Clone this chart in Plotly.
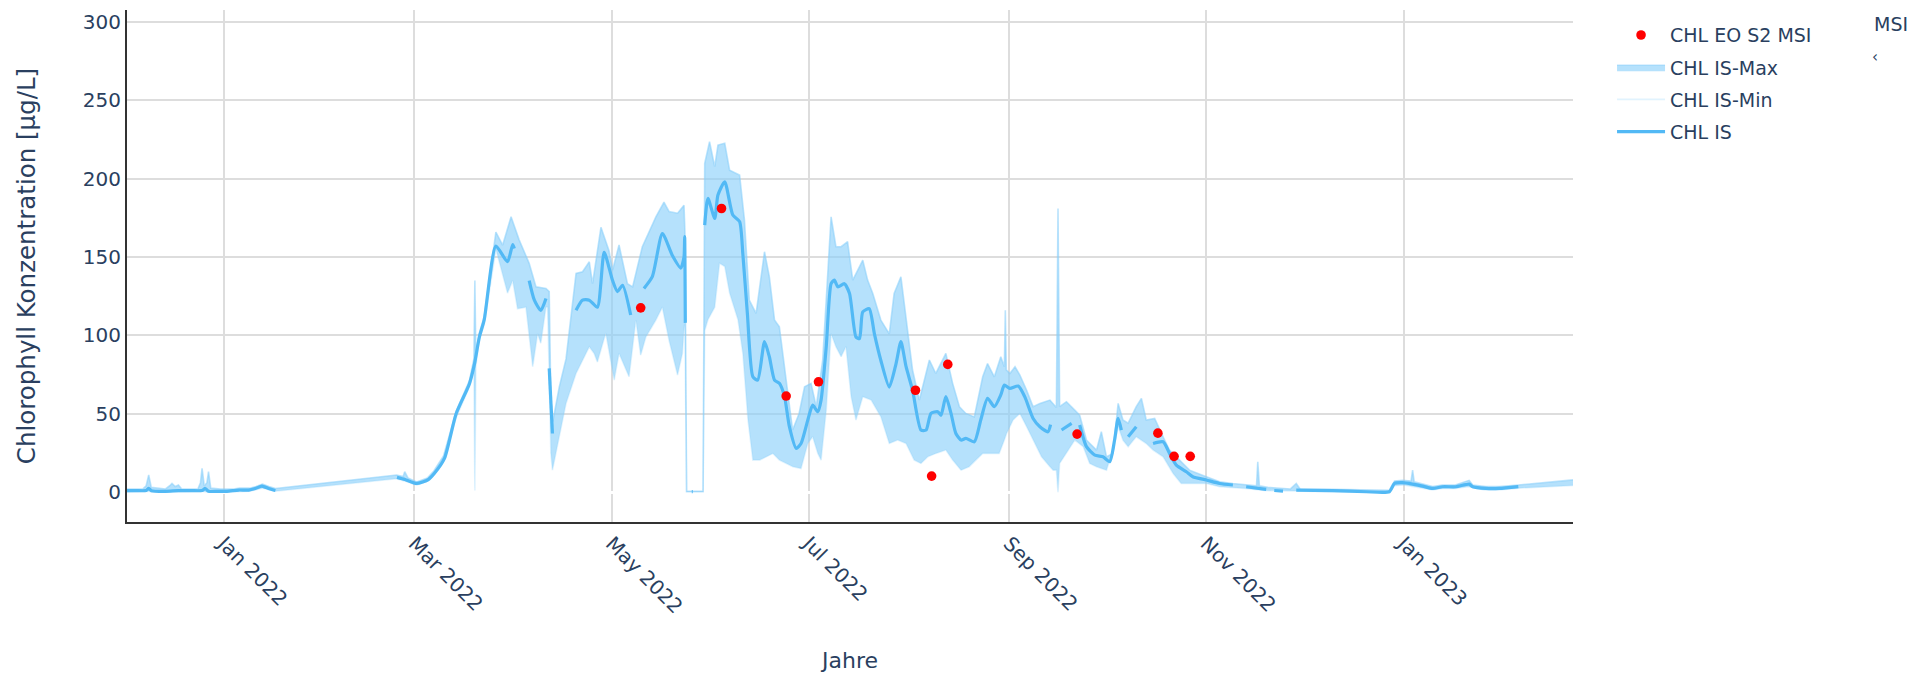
import pandas as pd
import plotly.graph_objects as go

# ---------------- data (day offsets relative to 2022-01-01) ----------------
BASE = "2022-01-01"

is_day = [-29.9, -27, -24, -23.2, -22.4, -18, -14, -10, -6.7, -5.7, -4.7, -2, 1, 4.6, 7.7, 9.8, 11.8, 13.9, 15.4, 16,
          17,
          53.6, 56.1, 59.7, 63.3, 65.2, 68.3, 71.9, 76, 77.5, 79.1, 80.6, 84.2, 87.8, 89.4, 89.9,
          92,
          94.5, 96.1, 98.1, 99.7,
          100.2,
          100.7, 101.7,
          103,
          109, 111, 113.1, 115.6, 117.7, 120.3, 121.8, 123.4, 125.9,
          127.5,
          130, 132.6, 135.7, 138.8, 141.4, 142.4, 142.6, 142.8,
          143.5,
          144.8, 145.1,
          146,
          148.8, 149.8, 151.9, 152.9, 155.0, 157.5, 159.6, 160.6, 162.0, 163.7, 165.2, 167.3, 168.8, 170.4, 171.9,
          173.5, 175.0, 177.1, 178.6, 180.7, 182.2, 183.8, 184.8, 186.4, 187.9, 188.9, 190.0, 192.0, 193.6, 195.6,
          196.7, 197.7, 199.7, 201.3, 203.3, 205.9, 208.0, 209.5, 211.1, 213.1, 215.7, 217.3, 218.8, 220.9, 221.9,
          223.4, 225.0, 226.5, 228.1, 229.6, 232.2, 234.2, 236.3, 238.4, 240.4, 241.5, 243.2, 245.8, 247.8, 250.4,
          252.5, 255, 255.8,
          257,
          259.2, 262.3,
          263.5,
          264.8, 266.9, 269.5, 272, 274.1, 275.6, 276.7, 277.7,
          278.5,
          279.8, 282.3,
          284,
          287.5, 290.6, 292.6, 294.7, 297.8, 299.8, 304, 308.1, 312.2,
          314,
          316.3, 322.5,
          324,
          325, 327.7,
          329,
          331.8, 343.1, 353.4, 360.6, 362.2, 364.7, 367.8, 370.9, 374, 377.1, 381.2, 385.3, 386.4, 390.5, 394.6, 400.5]
is_val = [0.9, 0.9, 1.0, 2.3, 0.9, 0.5, 0.9, 0.9, 1.0, 2.3, 0.5, 0.5, 0.5, 1.3, 1.3, 2.3, 3.8, 2.3, 1.3, 1.0,
          None,
          9.4, 8.0, 5.5, 8.0, 12, 21.5, 50, 69, 81, 99, 110, 157, 147, 158, 155.5,
          None,
          135, 122.5, 116, 123.6,
          None,
          79, 37.4,
          None,
          116, 122.5, 122.5, 118, 153, 135, 128, 132, 113,
          None,
          130, 137.5, 165, 151, 143, 150, 163, 108,
          None,
          0.3, 0.3,
          None,
          170.4, 187.4, 174.7, 189.6, 198, 176.8, 172.6, 152, 114, 73.6, 71.5, 96, 86.4, 71.5, 69.4,
          60.9, 41.7, 27.9, 31, 46, 55.5, 51.3, 58.7, 92.8, 133, 135.3, 131, 133, 126.8, 99,
          98, 115, 117, 101, 84, 67, 82, 96, 80, 65, 39.6, 39.6, 50.2, 51.3, 49,
          60.9, 50.2, 37.4, 33.2, 34.3, 32.1, 46, 59.8, 54.5, 62, 68.3, 66.2, 67.7, 60.9, 47,
          41.7, 38.5, 43,
          None,
          39.6, 43.8,
          None,
          42.8, 29, 23.6, 22.5, 19.4, 33.2, 47, 39.6,
          None,
          35.3, 41.7,
          None,
          31, 32.1, 24.7, 17.2, 13, 9.8, 7.7, 5.5, 4.5,
          None,
          3.4, 1.7,
          None,
          1.0, 0.6,
          None,
          1.3, 0.9, 0.2, 0.2, 5.5, 6, 5.1, 3.8, 2.3, 3.4, 3.4, 5.1, 3.4, 2.3, 2.3, 3.5]

max_day = [-29.9, -25, -24, -23.2, -22.4, -18, -16.5, -16, -15, -14, -13, -8, -7.2, -6.7, -6, -5.2, -4.7, -4, -1, 3,
           5, 8, 10, 12, 14, 16,
           53.5, 55.5, 56, 57, 59.7, 63, 65, 68, 72, 76, 77.4, 77.7, 78, 79, 80.6, 84.2, 86.3, 88.9, 91.4, 94.5,
           96.6, 99.7, 100.7, 101.2, 101.8, 103.8, 105.9, 107.4, 109, 111, 113.1, 114.1, 116.7, 119.2, 120.3, 122.3,
           124.9, 126.5, 129.5, 133.7, 136.2, 137.8, 140.4, 142.4, 142.7, 143.2, 148.3, 148.8, 150.3, 151.9, 152.9,
           155, 156.5, 159.6, 161.1, 162.6, 164.7, 167.3, 168.8, 170.4, 171.9, 174, 176, 178, 179.7, 181.7, 183.3,
           185.3, 187.9, 189.4, 191, 193, 194.6, 197.7, 199.2, 200.8, 203.3, 205.9, 207.4, 209.5, 211.6, 213.1,
           215.2, 218.3, 220.3, 223.4, 225.5, 227.6, 229.6, 232.2, 234.8, 236.3, 238.4, 240.4, 241.5, 241.8, 242.1,
           243.2, 244.8, 246.3, 248.4, 250.4, 252.5, 255.6, 257.6, 258.1, 258.6, 260.7, 263.3, 264.8, 266.9, 270,
           271.5, 273.1, 275.1, 276.7, 278.2, 279.8, 282.3, 283.9, 285.4, 288, 290.6, 292.6, 295.7, 298.8, 304,
           308.1, 312.2, 316, 319.5, 319.9, 320.4, 323, 330, 331.8, 333, 343, 353, 360.6, 362.2, 364.7, 367.3,
           367.8, 368.3, 371, 374, 377, 381, 385.3, 386.4, 390.5, 394.6, 400.5, 417.5]
max_val = [2, 2, 4, 10.9, 3, 2, 4.5, 5.5, 3.5, 4.5, 2, 2, 6, 15.1, 4, 6, 13, 2.5, 2, 2,
           2.5, 2.5, 3.5, 5.1, 3.5, 2.3,
           10.9, 10, 13, 9, 6.5, 9, 13.5, 23, 52, 71, 85, 135, 88, 101, 112, 166, 157.7, 175.7, 161, 146,
           131, 130, 128, 60, 45, 67, 85, 110, 139.6, 140.6, 147, 133, 169, 154, 141.7, 157.7,
           133, 131, 156.6, 175.7, 185, 179, 178, 183, 165, 0.5, 0.5, 209.8, 223.6, 207.7, 221.5,
           222.6, 205.5, 202.3, 173.6, 122.5, 114, 153.4, 137.4, 109.8, 105.5, 71.5, 39.6, 50.2, 67.2, 69.4, 54.5,
           84.3, 175.7, 156.6, 156.6, 159.8, 135.3, 148, 135.3, 126.8, 109.8, 101, 126.8, 137.4, 103.4, 77.9,
           58.7, 84.3, 75.7, 88.5, 69.4, 54.5, 50.2, 48, 73.6, 82, 73.6, 86.4, 80, 116, 78,
           75.7, 80, 74.7, 65, 54.5, 56.6, 58.7, 54, 181, 54.5, 57.7, 52.3, 49.1, 33.2, 26.8,
           38.5, 22.5, 24.7, 56.6, 46, 44, 54.5, 59.8, 46, 47, 35.3, 26.8, 20.4, 14, 9.8,
           6.6, 5.5, 4.5, 4, 19.4, 4, 3, 2, 5.5, 2, 1.8, 1.2, 1.2, 7, 7.5, 7,
           14, 6.5, 5, 3.5, 4.5, 4.5, 7.5, 4.5, 3.5, 3.5, 4.5, 7.8]

min_day = [-29.9, -24, -18, -6.7, -5, 0, 8, 12, 16,
           53.5, 56, 59.7, 63, 65, 68, 72, 76, 77.4, 77.7, 78, 79, 80.6, 84.2, 87.8, 89.4, 90.9, 93.5, 95.6, 97.1,
           98.1, 99.7, 100.2, 100.7, 101.2, 101.7, 105.9, 109, 111, 113.1, 114.6, 115.6, 118.2, 120.8, 122.3, 125.4,
           127.5, 129, 130.6, 133.7, 135.7, 137.8, 140.4, 141.9, 142.5, 142.7, 143.2, 148.3, 148.8, 149.8, 151.9,
           153.4, 155, 156.5, 159.1, 160.6, 162.2, 163.7, 165.8, 167.8, 169.9, 171.9, 174, 176.1, 178.6, 180.7,
           182.2, 183.8, 184.8, 186.4, 187.9, 189.4, 191, 192.5, 194.1, 195.6, 197.7, 200.3, 203.3, 205.9, 208.5,
           211.1, 213.6, 215.7, 217.8, 220.3, 223.4, 225.5, 228.1, 230.6, 232.7, 234.8, 237.3, 239.9, 241.5, 242.2,
           244.2, 246.3, 248.4, 250.4, 253, 255.6, 256.6, 257.6, 258.1, 258.6, 260.7, 263.3, 265.9, 267.9, 270,
           273.1, 275.1, 276.7, 278.2, 279.8, 282.3, 285.4, 287.5, 290.6, 293.7, 296.2, 299.8, 304, 308.1, 312,
           316, 322, 331, 343, 353, 360.6, 362.2, 365, 368, 371, 374, 377, 381, 385, 390, 394.6, 400.5, 417.5]
min_val = [0, 0.5, 0, 0.5, 0, 0, 0.5, 2.5, 0.5,
           8.5, 7, 4.5, 7, 11, 20, 48, 67, 78, 1, 80, 97, 107, 155, 127, 135, 117, 118, 80, 101,
           95, 118, 118, 75, 25, 14, 56.6, 75.7, 84, 92.8, 88.5, 83, 101.5, 71.5, 88.5, 73.6,
           109.8, 87.4, 99, 109.8, 118, 96.6, 74.7, 88.5, 107, 100, 0, 0, 103, 110, 118,
           146, 144, 127, 110, 88.5, 46, 20.4, 20.4, 22.5, 24.7, 20.4, 18.3, 16.2, 15, 31,
           35.3, 24.7, 20.4, 52.3, 101, 92.8, 86.4, 92.8, 60.9, 46, 60.9, 58.7, 48, 31, 33.2,
           31, 20.4, 18.3, 22.5, 24.7, 26.8, 20.4, 14, 16.2, 20.4, 24.7, 24.7, 24.7, 33.2, 37.4,
           46, 50.2, 41.7, 33.2, 22.5, 16.2, 14, 14, 0, 18.3, 24.7, 33.2, 29, 18.3, 16.2,
           14, 26.8, 41.7, 33, 29, 35.3, 31, 26.8, 22.5, 11.9, 5.5, 5.5, 5.5, 3.4, 3,
           2.3, 1, 0.5, 0.2, 0, 0, 4, 4.5, 3.5, 2.5, 1.3, 2.3, 2.3, 3.4, 1.3, 1.3, 2.5, 4.2]

eo_date = ["2022-05-10", "2022-06-04", "2022-06-24", "2022-07-04", "2022-08-03", "2022-08-08",
           "2022-08-13", "2022-09-22", "2022-10-17", "2022-10-22", "2022-10-27"]
eo_val = [117.6, 181, 61.3, 70.4, 65, 10.2, 81.5, 37, 37.6, 22.8, 22.8]

x_ticks_start = "2022-01-01"
x_range = ["2021-12-02 02:00", "2023-02-22 10:00"]
y_range = [-19.1, 307.7]


def to_dates(days):
    base = pd.Timestamp(BASE)
    return [base + pd.Timedelta(days=d) for d in days]


FONT = "Verdana, DejaVu Sans, sans-serif"
TXT = "#2a3f5f"
GRID = "rgb(221,221,221)"

fig = go.Figure()

# IS-Min (drawn first so IS-Max can fill down to it)
fig.add_trace(go.Scatter(
    x=to_dates(min_day), y=min_val, name="CHL IS-Min", mode="lines",
    line=dict(color="rgba(135,206,250,0.25)", width=1.6),
    legendrank=3, legendgroup="g3", hoverinfo="skip"))

# IS-Max with fill to IS-Min
fig.add_trace(go.Scatter(
    x=to_dates(max_day), y=max_val, name="CHL IS-Max", mode="lines",
    line=dict(color="rgba(135,206,250,0.55)", width=1.6),
    fill="tonexty", fillcolor="rgba(135,206,250,0.62)",
    legendrank=2, legendgroup="g2", hoverinfo="skip"))

# IS mean line
fig.add_trace(go.Scatter(
    x=to_dates(is_day), y=is_val, name="CHL IS", mode="lines",
    line=dict(color="#52B9F5", width=3.2, shape="spline", smoothing=0.6), connectgaps=False,
    legendrank=4, legendgroup="g4"))

# EO S2 MSI points
fig.add_trace(go.Scatter(
    x=eo_date, y=eo_val, name="CHL EO S2 MSI", mode="markers",
    marker=dict(color="red", size=9.6),
    legendrank=1, legendgroup="g1"))

axis_common = dict(
    showgrid=True, gridcolor=GRID, gridwidth=1.6,
    showline=True, linecolor="#333333", linewidth=2,
    ticks="", tickfont=dict(family=FONT, size=20, color=TXT),
)

fig.update_layout(
    width=1916, height=673, autosize=False,
    margin=dict(l=127, r=343, t=10, b=151, autoexpand=False),
    plot_bgcolor="white", paper_bgcolor="white",
    font=dict(family=FONT, size=19, color=TXT),
    showlegend=True,
    legend=dict(x=1.027, y=0.988, xanchor="left", yanchor="top",
                traceorder="grouped", tracegroupgap=4.5,
                font=dict(family=FONT, size=19, color=TXT),
                itemwidth=48, bgcolor="rgba(0,0,0,0)"),
    xaxis=dict(
        type="date", range=x_range, dtick="M2", tick0=x_ticks_start,
        tickformat="%b %Y", tickangle=45,
        title=dict(text="Jahre", standoff=38, font=dict(family=FONT, size=22, color=TXT)),
        **axis_common),
    yaxis=dict(
        range=y_range, dtick=50,
        zeroline=True, zerolinecolor="white", zerolinewidth=3,
        title=dict(text="Chlorophyll Konzentration [µg/L]", standoff=40,
                   font=dict(family=FONT, size=24.5, color=TXT)),
        **axis_common),
    annotations=[
        dict(text="MSI", xref="paper", yref="paper", x=1.2068, y=0.9727,
             xanchor="left", yanchor="middle", showarrow=False,
             font=dict(family=FONT, size=19, color=TXT)),
        dict(text="‹", xref="paper", yref="paper", x=1.2055, y=0.908,
             xanchor="left", yanchor="middle", showarrow=False,
             font=dict(family=FONT, size=15, color=TXT)),
    ],
)

fig.write_html("out.html", config={"displayModeBar": False},
               post_script="document.body.style.margin='0';document.body.style.overflow='hidden';")
